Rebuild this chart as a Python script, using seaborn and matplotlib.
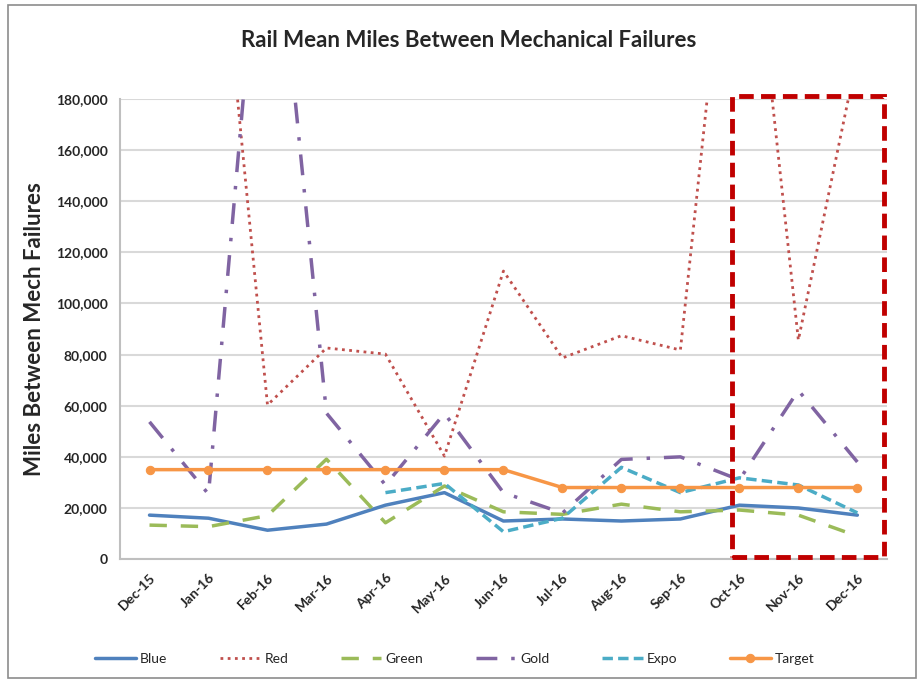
import numpy as np
import pandas as pd
import seaborn as sns
import matplotlib.pyplot as plt
from matplotlib.patches import Rectangle

# === Data ===
months = ["Dec-15", "Jan-16", "Feb-16", "Mar-16", "Apr-16", "May-16", "Jun-16",
          "Jul-16", "Aug-16", "Sep-16", "Oct-16", "Nov-16", "Dec-16"]
blue = [17200, 16000, 11300, 13700, 21100, 26000, 14900, 15700, 14900, 15700, 21100, 20000, 17200]
red = [260000, 296000, 60300, 82600, 80200, 40300, 112700, 78700, 87400, 81800, 298000, 85700, 197000]
green = [13300, 12700, 17000, 39100, 14200, 28600, 18500, 17500, 21500, 18500, 19200, 17200, 9000]
gold = [53700, 25400, 288000, 57100, 29000, 57000, 26000, 18000, 39000, 40000, 31000, 66000, 38000]
expo = [np.nan, np.nan, np.nan, np.nan, 26000, 29600, 10700, 16000, 35900, 26000, 31800, 29000, 18100]
target = [35000, 35000, 35000, 35000, 35000, 35000, 35000, 28000, 28000, 28000, 28000, 28000, 28000]

df = pd.DataFrame({"month": months, "Blue": blue, "Red": red, "Green": green,
                   "Gold": gold, "Expo": expo, "Target": target})
df["pos"] = np.arange(len(months))

# === Style ===
sns.set_style("white")
plt.rcParams["font.family"] = ["Lato", "DejaVu Sans"]

fig = plt.figure(figsize=(9.19, 6.81), dpi=100)
ax = fig.add_axes([0.1306, 0.179, 0.8344, 0.6756])

styles = {
    "Blue":   dict(color="#4F81BD", lw=2.5, ls="-"),
    "Red":    dict(color="#C0504D", lw=2.0, ls=(0, (1, 1.6))),
    "Green":  dict(color="#9BBB59", lw=2.5, ls=(0, (5, 4))),
    "Gold":   dict(color="#8064A2", lw=2.5, ls=(0, (6, 4, 1, 4))),
    "Expo":   dict(color="#4BACC6", lw=2.5, ls=(0, (3, 1.5))),
    "Target": dict(color="#F79646", lw=2.5, ls="-", marker="o", markersize=8.5,
                   markeredgecolor="#F79646"),
}

for name, st in styles.items():
    sub = df[["pos", name]].dropna()
    sns.lineplot(data=sub, x="pos", y=name, ax=ax, label=name, **st)

# === Axes ===
ax.set_xlim(-0.5, len(months) - 0.5)
ax.set_ylim(0, 180000)
ax.set_yticks(np.arange(0, 180001, 20000))
ax.set_yticklabels([f"{v:,}" for v in range(0, 180001, 20000)], fontsize=10, fontweight="bold")
ax.set_xticks(df["pos"])
ax.set_xticklabels(months, rotation=45, ha="right", rotation_mode="anchor",
                   fontsize=10, fontweight="bold")
ax.set_xticks(np.arange(-0.5, len(months)), minor=True)
ax.tick_params(axis="x", which="major", length=0, pad=9)
ax.tick_params(axis="x", which="minor", length=5, color="#bfbfbf", direction="out")
ax.tick_params(axis="y", length=5, color="#bfbfbf", direction="out", pad=4)
ax.grid(axis="y", color="#d9d9d9", lw=1.5)
ax.set_axisbelow(True)
for s in ["top", "right"]:
    ax.spines[s].set_visible(False)
for s in ["left", "bottom"]:
    ax.spines[s].set_color("#bfbfbf")
    ax.spines[s].set_linewidth(1.5)

ax.set_xlabel("")
ax.set_ylabel("Miles Between Mech Failures", fontsize=16, fontweight="bold", labelpad=8)
fig.text(0.51, 0.94, "Rail Mean Miles Between Mechanical Failures",
         ha="center", va="center", fontsize=16, fontweight="bold")

# highlight box around the last quarter
ax.add_patch(Rectangle((9.88, 1000), 12.46 - 9.88, 181000 - 1000, fill=False,
                       edgecolor="#C00000", lw=3.5, ls=(0, (3, 1.5)), clip_on=False, zorder=5))

# legend at bottom
ax.get_legend().remove()
handles, labels = ax.get_legend_handles_labels()
for h in handles:
    h.set_markersize(6)
fig.legend(handles, labels, loc="center", bbox_to_anchor=(0.495, 0.032), ncol=6,
           frameon=False, fontsize=10, handlelength=2.9, columnspacing=3.8, handletextpad=0.3)

# chart border
fig.add_artist(Rectangle((0.009, 0.005), 0.988, 0.988, transform=fig.transFigure,
                         fill=False, edgecolor="#8c8c8c", lw=1.2))

fig.savefig("out.png", dpi=100)
